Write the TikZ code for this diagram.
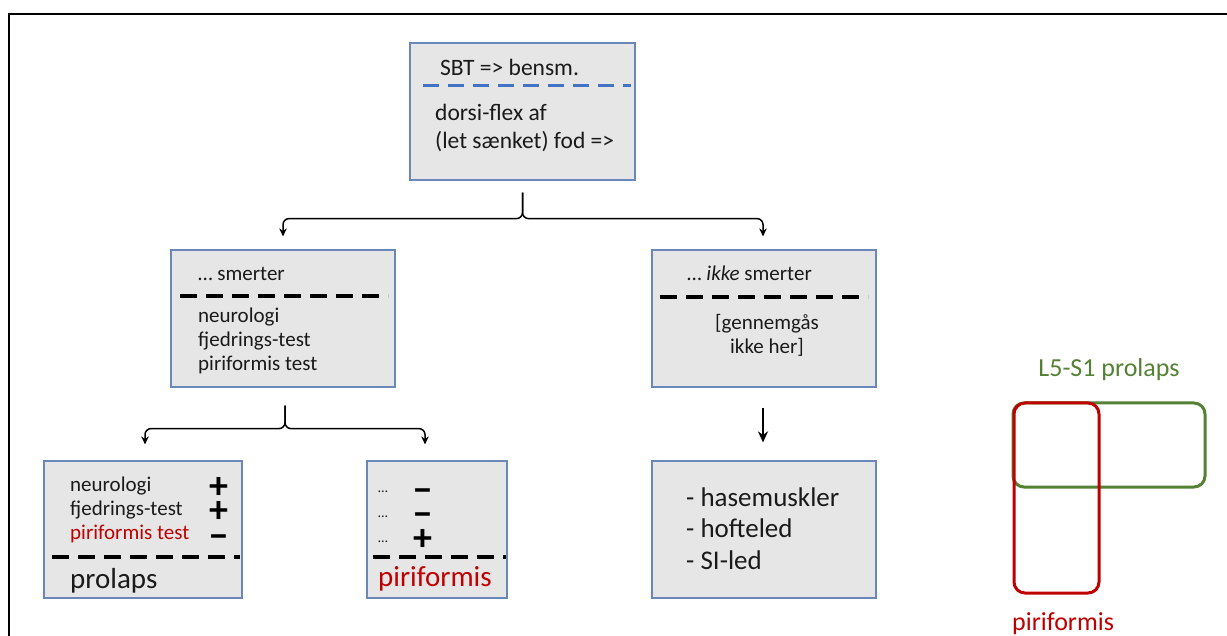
\documentclass[tikz,border=0pt]{standalone}
\usepackage{fontspec}
\setmainfont{Carlito}
\usetikzlibrary{arrows.meta,calc}
\definecolor{boxfill}{HTML}{E6E6E6}
\definecolor{boxline}{HTML}{6A87B8}
\definecolor{dblue}{HTML}{4472C4}
\definecolor{dred}{HTML}{C00000}
\definecolor{dgreen}{HTML}{548235}
\definecolor{txt}{HTML}{1A1A1A}
\begin{document}
\begin{tikzpicture}[x=1pt,y=-1pt,
  box/.style={draw=boxline,fill=boxfill,line width=1.2pt,inner sep=0pt},
  sepline/.style={line width=3.2pt,dash pattern=on 17pt off 9pt},
  bsepline/.style={line width=3pt,dash pattern=on 16pt off 9pt,draw=dblue},
  conn/.style={line width=1.5pt,rounded corners=6pt,-{Stealth[length=8pt,width=7.5pt]}},
  bigconn/.style={line width=2.6pt,-{Stealth[length=11pt,width=10pt]}},
  t/.style={anchor=west,inner sep=0pt,text=txt,text height=0.7em,text depth=0.2em},
  tc/.style={t,anchor=center},
  ftop/.style={font=\fontsize{23.5}{28}\selectfont,yshift=-5pt},
  fmid/.style={font=\fontsize{21}{25}\selectfont,yshift=-5pt},
  fbig/.style={font=\fontsize{29}{34}\selectfont,yshift=-6pt},
  flist/.style={font=\fontsize{27}{32}\selectfont,yshift=-7pt},
  fvenn/.style={font=\fontsize{26}{30}\selectfont,yshift=-6pt},
  sign/.style={anchor=center,inner sep=0pt,text=black,text height=0.3em,text depth=0pt,font=\fontsize{38}{40}\selectfont\bfseries},
  plus/.style={sign,yshift=-12pt},
  minus/.style={sign,yshift=-14pt},
  dots/.style={t,font=\fontsize{14}{16}\selectfont,yshift=-3pt}]
\useasboundingbox (0,0) rectangle (1227,636);
\fill[white] (0,0) rectangle (1227,636);
\draw[line width=2.5pt] (9,636) -- (9,14) -- (1227,14);

% boxes
\node[box,minimum width=225pt,minimum height=137pt] (top) at (522.5,111.5) {};
\node[box,minimum width=224pt,minimum height=137pt] (ml) at (283,318.5) {};
\node[box,minimum width=224pt,minimum height=137pt] (mr) at (764,318.5) {};
\node[box,minimum width=198pt,minimum height=137pt] (bl) at (143,529.5) {};
\node[box,minimum width=140pt,minimum height=137pt] (bm) at (437,529.5) {};
\node[box,minimum width=224pt,minimum height=137pt] (br) at (764,529.5) {};

% top box content
\node[t,ftop] (t1) at (440,68) {SBT => bensm.};
\draw[bsepline] (423,86) -- (631,86);
\node[t,ftop] (t2) at (435,113) {dorsi-flex af};
\node[t,ftop] (t3) at (435,141) {(let sænket) fod =>};

% middle left
\node[t,fmid] (l1) at (198,273) {… smerter};
\draw[sepline] (180,296) -- (388,296);
\node[t,fmid] (l2) at (198,315) {neurologi};
\node[t,fmid] (l3) at (198,339) {fjedrings-test};
\node[t,fmid] (l4) at (198,363) {piriformis test};

% middle right
\node[t,fmid] (r1) at (687,273) {… \textit{ikke} smerter};
\draw[sepline] (660,297) -- (868,297);
\node[tc,fmid] (r2) at (767,322) {[gennemgås};
\node[tc,fmid] (r3) at (767,346) {ikke her]};

% bottom left
\node[t,fmid] (a1) at (70,484) {neurologi};
\node[t,fmid] (a2) at (70,508) {fjedrings-test};
\node[t,fmid,text=dred] (a3) at (70,532) {piriformis test};
\node[plus] (s1) at (219,485) {+};
\node[plus] (s2) at (219,509) {+};
\node[minus] (s3) at (219,533) {−};
\draw[sepline] (52,557) -- (240,557);
\node[t,fbig] (a4) at (70,580) {prolaps};

% bottom middle
\node[dots] (d1) at (378,487) {…};
\node[dots] (d2) at (378,512) {…};
\node[dots] (d3) at (378,537) {…};
\node[minus] (m1) at (423,487) {−};
\node[minus] (m2) at (423,511) {−};
\node[plus] (m3) at (423,537) {+};
\draw[sepline] (373,557) -- (506,557);
\node[t,fbig,text=dred] (m4) at (378,578) {piriformis};

% bottom right
\node[t,flist] (h1) at (686,497) {- hasemuskler};
\node[t,flist] (h2) at (686,528) {- hofteled};
\node[t,flist] (h3) at (686,560) {- SI-led};

% connectors
\coordinate (c0) at ($(top.south)+(0,12)$);
\draw[conn] (c0) -- ++(0,26) -| ($(ml.north)+(0,-13)$);
\draw[conn] (c0) -- ++(0,26) -| ($(mr.north)+(-1,-13)$);
\coordinate (c1) at ($(ml.south)+(2,18)$);
\draw[conn] (c1) -- ++(0,23) -| ($(bl.north)+(2,-16)$);
\draw[conn] (c1) -- ++(0,23) -| ($(bm.north)+(-12,-16)$);
\draw[bigconn] ($(mr.south)+(-1,20)$) -- ($(br.north)+(-1,-18)$);

% venn
\draw[dgreen,line width=3pt,rounded corners=11pt] (1013,403) rectangle (1205,487);
\draw[dred,line width=3pt,rounded corners=11pt] (1014,403) rectangle (1099,593);
\node[tc,fvenn,text=dgreen] (v1) at (1109,368) {L5-S1 prolaps};
\node[t,fvenn,text=dred] (v2) at (1012,622) {piriformis};
\end{tikzpicture}
\end{document}
